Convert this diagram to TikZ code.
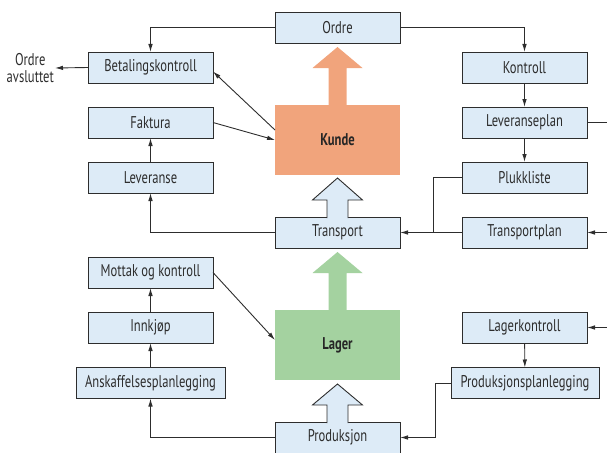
\documentclass[tikz,border=0pt]{standalone}
\usepackage{fontspec}
\setmainfont[FakeStretch=0.74]{PT Sans}
\usetikzlibrary{arrows.meta}

\definecolor{boksblaa}{RGB}{221,235,247}
\definecolor{strek}{RGB}{45,45,45}
\definecolor{kundefarge}{RGB}{241,164,124}
\definecolor{lagerfarge}{RGB}{164,210,160}

\tikzset{
	boks/.style={draw=strek, fill=boksblaa, line width=0.9pt, minimum width=125pt, minimum height=31pt, inner sep=2pt, outer sep=0pt, text=strek, font=\fontsize{17}{19}\selectfont},
	blokk/.style={minimum width=125pt, minimum height=70pt, outer sep=0pt, text=black!85, font=\fontsize{17}{19}\selectfont\bfseries},
	linje/.style={draw=strek, line width=0.9pt},
	pil/.style={linje, -{Latex[length=8pt,width=4.5pt]}}
}

\begin{document}
\begin{tikzpicture}[x=1pt,y=-1pt]
	\useasboundingbox (0,0) rectangle (607,452);
	
	% Hovedblokker
	\node[blokk, fill=kundefarge] (kunde) at (337.5,140) {Kunde};
	\node[blokk, fill=lagerfarge] (lager) at (337.5,345) {Lager};
	
	% Store piler
	\fill[kundefarge, shift={(kunde.north)}] (-9,0) -- (-9,-37) -- (-25,-37) -- (0,-58) -- (25,-37) -- (9,-37) -- (9,0) -- cycle;
	\fill[lagerfarge, shift={(lager.north)}] (-9,0) -- (-9,-37) -- (-25,-37) -- (0,-58) -- (25,-37) -- (9,-37) -- (9,0) -- cycle;
	
	% Venstre kolonne
	\node[boks] (ordre) at (337.5,27.5) {Ordre};
	\node[boks] (betal) at (150.5,67.5) {Betalingskontroll};
	\node[boks] (faktura) at (150.5,122.5) {Faktura};
	\node[boks] (leveranse) at (150.5,177.5) {Leveranse};
	\node[boks] (mottak) at (150.5,272.5) {Mottak og kontroll};
	\node[boks] (innkjop) at (150.5,327.5) {Innkjøp};
	\node[boks, minimum width=149pt] (anskaff) at (150.5,383) {Anskaffelsesplanlegging};
	\node[align=center, inner sep=1pt, text=strek, font=\fontsize{17}{17}\selectfont, anchor=east] (avsluttet) at (55,68) {Ordre\\avsluttet};
	
	% Midten
	\node[boks] (transport) at (337.5,232.5) {Transport};
	\node[boks] (produksjon) at (337.5,437.5) {Produksjon};
	\filldraw[linje, fill=boksblaa, shift={(transport.north)}] (-10.5,1) -- (-10.5,-17) -- (-25,-17) -- (0,-39) -- (25,-17) -- (10.5,-17) -- (10.5,1);
	\filldraw[linje, fill=boksblaa, shift={(produksjon.north)}] (-10.5,1) -- (-10.5,-17) -- (-25,-17) -- (0,-38) -- (25,-17) -- (10.5,-17) -- (10.5,1);
	
	% Hoyre kolonne
	\node[boks] (kontroll) at (524.5,67.5) {Kontroll};
	\node[boks] (levplan) at (524.5,122.5) {Leveranseplan};
	\node[boks] (plukk) at (524.5,177.5) {Plukkliste};
	\node[boks] (transportplan) at (524.5,232.5) {Transportplan};
	\node[boks] (lagerkontroll) at (524.5,327.5) {Lagerkontroll};
	\node[boks, minimum width=148pt] (prodplan) at (525,383) {Produksjonsplanlegging};
	
	% Frie ender ved kanten
	\coordinate (kant1) at (607,122.5);
	\coordinate (kant2) at (607,232.5);
	\coordinate (kant3) at (607,327.5);
	\coordinate (knekk) at (433,232.5);
	
	% Forbindelser
	\draw[pil] (ordre.west) -| (betal.north);
	\draw[pil] (ordre.east) -| (kontroll.north);
	\draw[pil] (kontroll) -- (levplan);
	\draw[pil] (levplan) -- (plukk);
	\draw[linje] (levplan.east) -- (kant1);
	\draw[pil] (kant2) -- (transportplan.east);
	\draw[pil] (kant3) -- (lagerkontroll.east);
	\draw[pil] (transportplan.west) -- (transport.east);
	\draw[linje] (plukk.west) -| (knekk);
	\draw[pil] (transport.west) -| (leveranse.south);
	\draw[pil] (leveranse) -- (faktura);
	\draw[pil] (faktura.east) -- (kunde.west);
	\draw[pil] ([yshift=10pt]kunde.west) -- ([yshift=-4pt]betal.east);
	\draw[pil] (betal.west) -- (avsluttet.east);
	\draw[pil] (mottak.east) -- ([yshift=5pt]lager.west);
	\draw[pil] (innkjop) -- (mottak);
	\draw[pil] (anskaff) -- (innkjop);
	\draw[pil] (produksjon.west) -| (anskaff.south);
	\draw[pil] (lagerkontroll) -- (prodplan);
	\draw[pil] (prodplan.west) -- ++(-16,0) |- (produksjon.east);
	
\end{tikzpicture}
\end{document}
